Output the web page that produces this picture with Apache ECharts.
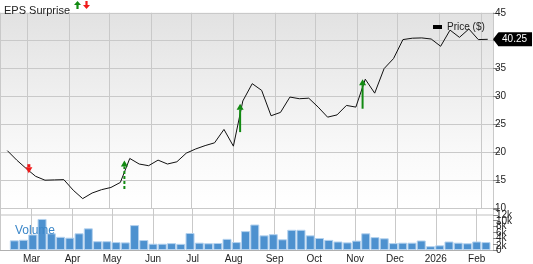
<!DOCTYPE html>
<html>
<head>
<meta charset="utf-8">
<script src="https://cdn.jsdelivr.net/npm/echarts@6/dist/echarts.min.js"></script>
<style>
  html, body { margin: 0; padding: 0; background: #fff; }
  #chart { width: 533px; height: 264px; }
</style>
</head>
<body>
<div id="chart"></div>
<script>
// ---------- data ----------
const weekDates = [
  '2025-02-14','2025-02-21','2025-02-28','2025-03-07','2025-03-14','2025-03-21','2025-03-28',
  '2025-04-04','2025-04-11','2025-04-18','2025-04-25','2025-05-02','2025-05-09','2025-05-16',
  '2025-05-23','2025-05-30','2025-06-06','2025-06-13','2025-06-20','2025-06-27','2025-07-04',
  '2025-07-11','2025-07-18','2025-07-25','2025-08-01','2025-08-08','2025-08-15','2025-08-22',
  '2025-08-29','2025-09-05','2025-09-12','2025-09-19','2025-09-26','2025-10-03','2025-10-10',
  '2025-10-17','2025-10-24','2025-10-31','2025-11-07','2025-11-14','2025-11-21','2025-11-28',
  '2025-12-05','2025-12-12','2025-12-19','2025-12-26','2026-01-02','2026-01-09','2026-01-16',
  '2026-01-23','2026-01-30','2026-02-06'
];
const priceValues = [
  20.3, 18.6, 17.1, 15.7, 15.0, 15.05, 15.1, 13.2, 11.7, 12.7, 13.3, 13.7, 14.6, 18.9,
  17.9, 17.6, 18.6, 17.9, 18.3, 19.85, 20.6, 21.2, 21.7, 24.1, 21.1, 29.2, 32.3, 31.1,
  26.55, 27.15, 29.9, 29.6, 29.7, 28.1, 26.3, 26.7, 28.4, 28.1, 33.1, 30.6, 35.0, 36.8,
  40.2, 40.45, 40.5, 40.3, 39.0, 41.9, 40.6, 42.1, 40.2, 40.25
];
// volume in thousands
const volumeValues = [
  3.3, 3.5, 5.3, 10.6, 5.7, 4.5, 4.2, 5.7, 7.4, 3.0, 3.0, 2.7, 2.6, 8.5,
  3.4, 2.15, 2.15, 2.35, 2.1, 5.8, 2.5, 2.3, 2.4, 3.8, 2.7, 6.45, 8.7, 5.0,
  5.4, 3.65, 6.9, 6.9, 5.0, 4.1, 3.45, 2.9, 2.6, 3.2, 5.7, 4.4, 4.0, 2.35,
  2.5, 2.5, 3.25, 1.3, 1.6, 2.9, 2.5, 2.3, 2.9, 2.7
];
// EPS surprise arrows: date, from price, to price, dashed(1)/solid(0)
const epsDates  = ['2025-03-02', '2025-05-12', '2025-08-06', '2025-11-05'];
const epsFrom   = [17.87, 13.43, 23.62, 27.81];
const epsTo     = [16.25, 18.52, 28.71, 33.11];
const epsDashed = [0, 1, 0, 0];

const monthNames = ['Jan','Feb','Mar','Apr','May','Jun','Jul','Aug','Sep','Oct','Nov','Dec'];
const priceTicks = [10, 15, 20, 25, 30, 35, 40, 45];
const volumeTickValues = [0, 2, 4, 6, 8, 10, 12];
const volumeTickLabels = ['0', '2k', '4k', '6k', '8k', '10k', '12k'];

// ---------- helpers ----------
const DAY = 86400000;
function toMs(s) {
  const p = s.split('-').map(Number);
  return new Date(p[0], p[1] - 1, p[2]).getTime();
}
const xMin = toMs('2025-02-08') + 0.56 * DAY;
const xMax = toMs('2026-02-09') + 0.92 * DAY;
const BAR_SHIFT = 2 * DAY;

const priceData = weekDates.map((d, i) => [toMs(d), priceValues[i]]);
const volumeData = weekDates.map((d, i) => [toMs(d) + BAR_SHIFT, volumeValues[i]]);
const epsData = epsDates.map((d, i) => [toMs(d), epsFrom[i], epsTo[i], epsDashed[i]]);
const last = priceData[priceData.length - 1];

function volLabel(v, parity) {
  const i = volumeTickValues.indexOf(Math.round(v));
  if (i < 0) return '';
  return (i % 2 === parity) ? volumeTickLabels[i] : '';
}

const FONT = 'Liberation Sans, Arial, sans-serif';
const GRID_LINE = '#c9c9c9';
const GREEN = '#128a12';
const RED = '#f01a1a';

// volume grid geometry: 0 at y=252, 14k at y=209
const VOL_TOP = 209, VOL_BOTTOM = 12;
const VOL_PX = (264 - VOL_TOP - VOL_BOTTOM) / 14;

const timeAxisCommon = {
  type: 'time',
  min: xMin,
  max: xMax,
  splitNumber: 12,
  minInterval: 28 * DAY,
  maxInterval: 31 * DAY,
  axisTick: { show: false },
  splitLine: { show: true, lineStyle: { color: GRID_LINE, width: 1 } }
};

const volLabelStyle = { fontFamily: FONT, fontSize: 10, color: '#222', margin: 3, lineHeight: 10 };

const chart = echarts.init(document.getElementById('chart'), null, { renderer: 'canvas' });
chart.setOption({
  animation: false,
  backgroundColor: '#ffffff',
  title: [
    {
      text: 'EPS Surprise',
      left: -1, top: 0,
      textStyle: { fontFamily: FONT, fontSize: 11, fontWeight: 'normal', color: '#222' }
    },
    {
      text: 'Volume',
      left: 10, top: 220,
      textStyle: { fontFamily: FONT, fontSize: 12, fontWeight: 'normal', color: '#3b87c9' }
    }
  ],
  graphic: [
    { type: 'polygon', left: 74, top: 1,
      shape: { points: [[3.5,0],[7,4],[4.6,4],[4.6,8],[2.4,8],[2.4,4],[0,4]] },
      style: { fill: GREEN } },
    { type: 'polygon', left: 83, top: 1,
      shape: { points: [[3.5,8],[7,4],[4.6,4],[4.6,0],[2.4,0],[2.4,4],[0,4]] },
      style: { fill: RED } }
  ],
  legend: {
    left: 428, top: 17,
    icon: 'rect',
    itemWidth: 9, itemHeight: 4, itemGap: 6,
    textStyle: { fontFamily: FONT, fontSize: 10, color: '#222' },
    data: [{ name: 'Price ($)', itemStyle: { color: '#000' } }]
  },
  grid: [
    {
      left: 0, right: 40, top: 12.8, bottom: 55.9,
      show: true, borderWidth: 0,
      backgroundColor: new echarts.graphic.LinearGradient(0, 0, 0, 1, [
        { offset: 0, color: '#e2e2e2' },
        { offset: 0.75, color: '#fafafa' },
        { offset: 1, color: '#ffffff' }
      ])
    },
    { left: 0, right: 40, top: VOL_TOP, bottom: VOL_BOTTOM },
    // helper grid for the staggered volume labels (range -2..14, same scale)
    { left: 0, right: 40, top: VOL_TOP, bottom: VOL_BOTTOM - 2 * VOL_PX }
  ],
  xAxis: [
    Object.assign({}, timeAxisCommon, {
      gridIndex: 0,
      axisLine: { show: false },
      axisLabel: { show: false }
    }),
    Object.assign({}, timeAxisCommon, {
      gridIndex: 1,
      axisLine: { show: true, lineStyle: { color: '#b0b0b0', width: 1 } },
      axisLabel: {
        show: true, fontFamily: FONT, fontSize: 10, color: '#222', margin: 4,
        formatter: function (v) {
          const d = new Date(v);
          return d.getMonth() === 0 ? String(d.getFullYear()) : monthNames[d.getMonth()];
        }
      }
    }),
    { gridIndex: 2, type: 'value', show: false, min: 0, max: 1 }
  ],
  yAxis: [
    {
      gridIndex: 0, type: 'value', position: 'right',
      min: priceTicks[0], max: priceTicks[priceTicks.length - 1], interval: 5,
      axisLine: { show: true, lineStyle: { color: GRID_LINE } },
      axisTick: { show: true, length: 7, lineStyle: { color: '#888' } },
      axisLabel: { fontFamily: FONT, fontSize: 10, color: '#222', margin: 2, hideOverlap: false },
      splitLine: { show: true, lineStyle: { color: GRID_LINE, width: 1 } }
    },
    {
      gridIndex: 1, type: 'value', position: 'right',
      min: 0, max: 14, interval: 2,
      axisLine: { show: true, lineStyle: { color: GRID_LINE } },
      axisTick: { show: true, length: 5, lineStyle: { color: '#888' } },
      axisLabel: Object.assign({}, volLabelStyle, {
        hideOverlap: false,
        formatter: function (v) { return volLabel(v, 0); }
      }),
      splitLine: {
        show: true,
        lineStyle: {
          width: 2,
          color: ['rgba(0,0,0,0)','rgba(0,0,0,0)','rgba(0,0,0,0)','rgba(0,0,0,0)',
                  'rgba(0,0,0,0)','rgba(0,0,0,0)','#e0e0e0','rgba(0,0,0,0)']
        }
      }
    },
    {
      gridIndex: 2, type: 'value', position: 'right',
      min: -2, max: 14, interval: 4,
      axisLine: { show: false },
      axisTick: { show: false },
      splitLine: { show: false },
      axisLabel: Object.assign({}, volLabelStyle, {
        hideOverlap: false,
        formatter: function (v) { return volLabel(v, 1); }
      })
    }
  ],
  series: [
    {
      name: 'Price ($)', type: 'line',
      xAxisIndex: 0, yAxisIndex: 0,
      data: priceData,
      symbol: 'none',
      lineStyle: { color: '#111', width: 1 },
      itemStyle: { color: '#000' },
      z: 3,
      markPoint: {
        symbol: 'path://M0,7 L5,0.5 Q5,0 6,0 L39,0 L39,14 L6,14 Q5,14 5,13.5 Z',
        symbolSize: [39, 14],
        symbolOffset: [24.8, 0],
        itemStyle: { color: '#000' },
        label: {
          show: true, position: 'inside', offset: [2, 0],
          color: '#fff', fontFamily: FONT, fontSize: 10,
          formatter: function (p) { return Number(p.value).toFixed(2); }
        },
        data: [{ coord: last, value: last[1] }]
      }
    },
    {
      name: 'EPS', type: 'custom',
      xAxisIndex: 0, yAxisIndex: 0,
      data: epsData,
      z: 5,
      encode: { x: 0, y: [1, 2] },
      renderItem: function (params, api) {
        const a = api.coord([api.value(0), api.value(1)]);
        const b = api.coord([api.value(0), api.value(2)]);
        const up = api.value(2) > api.value(1);
        const color = up ? GREEN : RED;
        const dashed = api.value(3) === 1;
        const headH = 6, headW = 7;
        const tip = b[1];
        const base = up ? tip + headH : tip - headH;
        return {
          type: 'group',
          children: [
            {
              type: 'line',
              shape: { x1: a[0], y1: a[1], x2: a[0], y2: base },
              style: { stroke: color, lineWidth: up ? 2 : 3, lineDash: dashed ? [3, 2] : null }
            },
            {
              type: 'polygon',
              shape: { points: [[a[0], tip], [a[0] - headW / 2, base], [a[0] + headW / 2, base]] },
              style: { fill: color }
            }
          ]
        };
      }
    },
    {
      name: 'Volume', type: 'bar',
      xAxisIndex: 1, yAxisIndex: 1,
      data: volumeData,
      barWidth: 9,
      itemStyle: { color: '#4d91cf', borderColor: '#b3d1ee', borderWidth: 1 }
    }
  ]
});
</script>
</body>
</html>
